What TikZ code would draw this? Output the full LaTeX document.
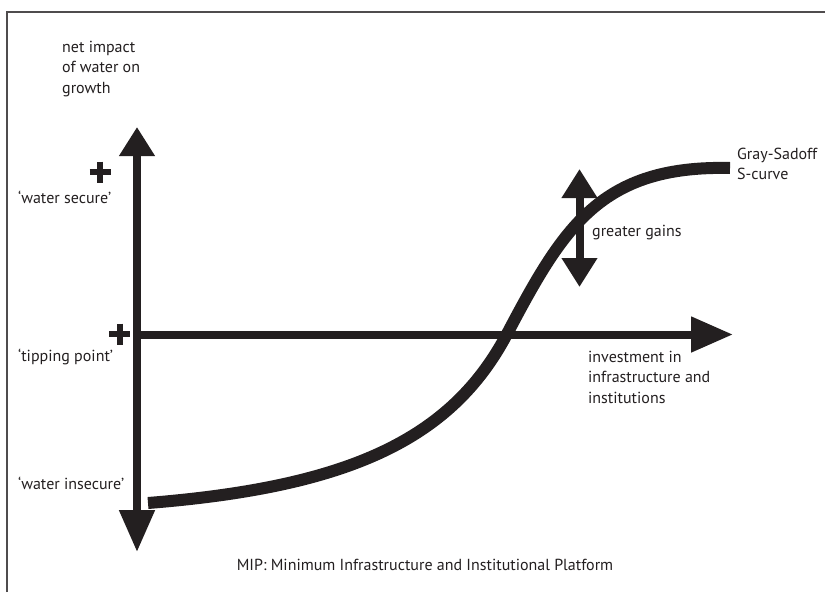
\documentclass[tikz,border=0pt]{standalone}
\usepackage{fontspec}
\setmainfont{PT Sans}
\usetikzlibrary{arrows.meta}
\definecolor{ink}{HTML}{231F20}
\tikzset{
  longtip/.tip={Triangle[length=42pt,width=34pt]},
  shorttip/.tip={Triangle[length=29pt,width=34pt]}
}
\begin{document}
\begin{tikzpicture}[x=1pt,y=-1pt,
    every node/.style={font=\fontsize{16}{20.5}\selectfont, text=ink, inner sep=0pt, align=left},
    axis/.style={line width=8pt, draw=ink},
    scurve/.style={line width=12pt, draw=ink},
    plusbar/.style={line width=6pt, draw=ink}]
  \useasboundingbox (0,0) rectangle (825,592);

  % frame (only top and left edges show)
  \draw[line width=1.5pt, draw=ink!80] (7,592) -- (7,12) -- (825,12);

  % axes
  \coordinate (ytop) at (137,127);
  \coordinate (ybot) at (137,552);
  \coordinate (O) at (133,334.5);
  \coordinate (xend) at (733,334.5);
  \draw[axis, longtip-shorttip] (ybot) -- (ytop);
  \draw[axis, -longtip] (O) -- (xend);

  % plus marks
  \draw[plusbar] (100,161.5) -- (100,182.5) (89.5,172) -- (110.5,172);
  \draw[plusbar] (119.5,323.5) -- (119.5,344.5) (109,334) -- (130,334);

  % axis labels
  \node[anchor=west] (impact) at (62,69) {net impact\\of water on\\growth};
  \node[anchor=west] (invest) at (588,377) {investment in\\infrastructure and\\institutions};
  \node[anchor=west] (secure) at (18,197) {‘water secure’};
  \node[anchor=west] (tipping) at (18,357) {‘tipping point’};
  \node[anchor=west] (insecure) at (18,483) {‘water insecure’};

  % S-curve
  \coordinate (s0) at (148,503);
  \coordinate (s1) at (507,334);
  \coordinate (s2) at (730,168);
  \draw[scurve] (s0) .. controls (348,487) and (451,440) .. (s1)
                     .. controls (563,228) and (600,165) .. (s2);
  \node[anchor=west] (gsname) at (737,164) {Gray-Sadoff\\S-curve};

  % greater gains
  \coordinate (gtop) at (579.5,169);
  \coordinate (gbot) at (579.5,287);
  \draw[axis, shorttip-shorttip] (gbot) -- (gtop);
  \node[anchor=west] (gains) at (592,233) {greater gains};

  \node (mip) at (425,565) {MIP: Minimum Infrastructure and Institutional Platform};
\end{tikzpicture}
\end{document}
